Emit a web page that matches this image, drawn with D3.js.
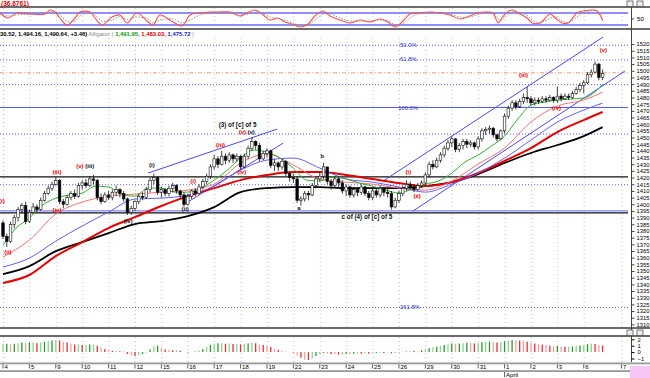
<!DOCTYPE html>
<html><head><meta charset="utf-8">
<script src="https://cdn.jsdelivr.net/npm/d3@7"></script>
<style>
body{margin:0;background:#fff}
svg{display:block;font-family:"Liberation Sans",Arial,sans-serif}
</style></head>
<body><svg id="c" width="650" height="378"></svg>
<script>
// ---------- DATA ----------
const dayLabels = ["4","5","9","10","11","12","15","16","17","18","19","22","23","24","25","26","29","30","31","1","2","3","6","7"];
const dayBars   = [0,7,14,21,28,35,42,49,56,63,70,77,84,91,98,105,112,119,126,133,140,147,154,164];

const firstOpen = 1386;
const close = [1376,1372,1385,1390,1396,1399,1387, 1394,1398,1396,1403,1408,1412,1415,
 1418,1402,1400,1405,1408,1406,1414, 1416,1414,1419,1418,1405,1402,1407,
 1405,1409,1411,1408,1404,1394,1397, 1402,1406,1405,1411,1418,1420,1409,
 1411,1408,1412,1414,1410,1407,1400, 1406,1410,1408,1413,1417,1421,1428,
 1434,1430,1436,1433,1437,1434,1436, 1428,1436,1442,1447,1444,1434,1438,
 1440,1429,1431,1428,1432,1423,1420, 1419,1403,1404,1408,1407,1414,1419,
 1421,1428,1417,1414,1419,1416,1410, 1413,1407,1411,1409,1413,1408,1405,
 1410,1407,1412,1409,1408,1398,1403, 1408,1412,1415,1413,1411,1414,1416,
 1422,1430,1428,1433,1437,1442,1446, 1449,1441,1444,1447,1445,1446,1443,
 1449,1455,1456,1457,1452,1449,1455, 1466,1472,1476,1473,1477,1480,1479,
 1476,1478,1477,1479,1478,1480,1478, 1481,1479,1481,1480,1483,1486,1489,
 1491,1497,1499,1505,1495,1498];
const high = [1388,1378,1387,1392,1398,1401,1402, 1396,1401,1400,1405,1410,1414,1417,
 1420,1419,1404,1407,1410,1411,1416, 1418,1419,1421,1422,1419,1408,1409,
 1410,1411,1414,1412,1410,1405,1399, 1403,1408,1409,1413,1420,1423,1421,
 1413,1412,1414,1416,1415,1411,1409, 1408,1411,1412,1415,1419,1423,1430,
 1437,1436,1440,1438,1439,1438,1438, 1437,1438,1444,1450,1448,1446,1440,
 1442,1441,1434,1432,1434,1433,1424, 1423,1421,1406,1410,1410,1416,1421,
 1424,1431,1427,1419,1421,1421,1418, 1415,1414,1413,1413,1415,1414,1410,
 1412,1412,1414,1413,1412,1410,1405, 1410,1414,1418,1417,1415,1416,1418,
 1424,1432,1433,1435,1439,1444,1448, 1451,1449,1446,1449,1449,1448,1447,
 1451,1457,1458,1459,1458,1453,1456, 1468,1474,1478,1478,1479,1483,1488,
 1481,1480,1480,1481,1481,1482,1481, 1488,1483,1483,1483,1485,1488,1491,
 1493,1499,1501,1507,1506,1501];
const low = [1374,1368,1371,1382,1387,1393,1385, 1386,1393,1394,1395,1402,1407,1410,
 1414,1400,1397,1399,1403,1404,1405, 1411,1412,1413,1415,1403,1400,1401,
 1403,1403,1406,1405,1402,1392,1392, 1395,1400,1403,1404,1409,1415,1407,
 1405,1406,1406,1409,1408,1404,1398, 1399,1404,1406,1407,1411,1415,1419,
 1426,1427,1429,1430,1431,1431,1432, 1426,1427,1434,1440,1441,1432,1433,
 1435,1427,1425,1425,1426,1421,1417, 1416,1401,1399,1402,1403,1406,1412,
 1417,1419,1415,1411,1412,1413,1408, 1406,1405,1405,1406,1407,1406,1403,
 1403,1405,1405,1406,1405,1396,1397, 1401,1406,1410,1411,1409,1410,1412,
 1414,1420,1426,1427,1431,1435,1440, 1443,1439,1439,1441,1442,1443,1441,
 1441,1447,1452,1453,1450,1447,1448, 1453,1464,1470,1471,1472,1475,1476,
 1474,1474,1475,1476,1476,1477,1476, 1476,1477,1478,1478,1479,1482,1484,
 1483,1490,1495,1498,1493,1493];

// moving-average lines (bar index, price)
const maBars  = [0,7,14,21,28,35,42,49,56,63,70,77,84,91,98,105,112,119,126,133,140,147,154,159];
const maBlack = [1347.7,1353.7,1364.9,1371.7,1378.4,1385.2,1387.4,1391.2,1397.9,1409.1,1412.1,1412.9,1412.9,1412.1,1412.1,1412.1,1413.6,1416.6,1422.6,1430.9,1438.4,1444.4,1451.1,1457.8];
const maRed   = [1341,1347,1361.2,1371.7,1382.2,1390.4,1398.7,1406.1,1412.1,1418.1,1421.9,1424.1,1424.1,1421.9,1418.9,1415.9,1413.6,1416.6,1423.4,1432.4,1442.1,1454.1,1463.1,1469.1];
const maJaw   = [1353,1359.7,1372.4,1383.7,1394.2,1403.9,1404.6,1406.9,1413.6,1425.6,1433.1,1434.6,1427.1,1418.9,1416.6,1412.9,1409.1,1415.1,1423.4,1434.6,1448.1,1461.6,1470.6,1475.8];
const maTeeth = [1360.4,1373.2,1392.7,1401.6,1406.1,1407.6,1409.1,1410.6,1415.1,1430.9,1437.6,1429.4,1418.9,1416.6,1415.1,1412.1,1410.6,1417.4,1430.1,1442.1,1461.6,1473.6,1478.1,1484];
const lipsBars = [0,3.5,7,10.5,14,17.5,21,24.5,28,31.5,35,38.5,42,45.5,49,52.5,56,59.5,63,66.5,70,73.5,77,80.5,84,87.5,91,94.5,98,101.5,105,108.5,112,115.5,119,122.5,126,129.5,133,136.5,140,143.5,147,150.5,154,157.5,159];
const maLips  = [1369.4,1382.2,1389.7,1399.4,1404.6,1406.9,1408.4,1413.6,1412.9,1407.6,1406.1,1412.1,1412.1,1409.1,1409.1,1412.1,1418.1,1425.6,1434.6,1440.6,1439.1,1434.6,1427.1,1418.1,1417.4,1420.4,1418.9,1415.9,1413.6,1410.6,1408.4,1411.4,1415.1,1417.4,1423.4,1431.6,1436.9,1443.6,1451.1,1463.8,1474.3,1476.6,1478.1,1478.8,1479.6,1485.5,1490];

// trend lines: [bar0, price0, bar1, price1]
const trendLines = [[38.5,1423.4,72.7,1456.3],[47.7,1399.4,74.3,1445.8],[100.8,1417.4,159.1,1525.2],[108.7,1394.9,164.9,1499.8]];

// horizontal levels
const fibLevels = [1519.5,1508.5,1490,1453,1415,1323];
const fibNames  = ["50.0%","61.8%","","","","261.8%"];
const hundredLevel = 1472.5;
const orangeLevel = 1498.5;
const blackLevels = [1420.5,1393.5];
const blueSolidLevel = 1395;

// oscillator histogram
const hist = [1.3,1.3,1.2,1.3,1.4,1.5,1.4, 1.5,1.5,1.4,1.5,1.6,1.7,1.8, 1.9,1.8,1.6,1.5,1.3,1.2,1.2,
 1.1,1.1,1.2,1.2,1.0,0.7,0.5, 0.3,0.2,0.2,0.15,0.1,-0.3,-0.5, -0.6,-0.5,-0.3,-0.1,0.4,0.9,1.0,
 0.7,0.4,0.35,0.3,0.3,0.2,0.05, -0.05,0.0,0.1,0.3,0.5,0.8,1.1, 1.3,1.4,1.4,1.3,1.35,1.25,1.3,
 1.2,1.25,1.35,1.45,1.4,1.2,1.1, 1.0,0.8,0.5,0.35,0.2,0.05,0.0, -0.1,-0.5,-0.9,-1.2,-1.25,-1.0,-0.6,
 -0.35,-0.15,-0.2,-0.3,-0.35,-0.4,-0.35, -0.3,-0.35,-0.25,-0.2,-0.25,-0.2,-0.25, -0.2,-0.15,-0.1,-0.15,-0.05,-0.2,-0.15,
 -0.05,0.05,0.1,0.15,0.2,0.15,0.3, 0.4,0.6,0.75,0.85,1.0,1.1,1.2, 1.35,1.3,1.35,1.4,1.45,1.4,1.35,
 1.45,1.55,1.6,1.65,1.6,1.5,1.55, 1.7,1.8,1.9,1.85,1.8,1.7,1.6, 1.45,1.35,1.25,1.15,1.1,1.0,0.9,
 0.95,0.85,0.8,0.8,0.85,0.95,1.05, 1.15,1.25,1.3,1.25,1.1,1.05];
const histTicks = [2,1,0,-1];

// stochastic
const stochBars = [-0.8,1.3,3.7,7.2,11.1,12.5,13.8,15.1,17,19.1,20.4,23.1,24.4,26.3,28.9,31,32.9,35.5,38.5,39.8,41.6,45.1,47.5,49.6,52.2,54.9,57.5,60.2,62.8,64.2,66.8,68.7,70.8,72.9,74.8,76.6,78.8,80.9,82.7,84.9,86.7,89.4,92,94.7,97.3,100,102.1,104,105.8,107.9,110,113.2,115.9,118.5,121.2,123.1,125.7,127.8,129.9,131.3,132.3,133.7,135.2,136.6,139,140.3,142.4,145.1,146.4,148.3,149.8,152.2,153.8,156.4,157.5,159.1];
const stochK = [80,55,80,75,75,95,85,55,20,55,85,85,55,20,60,70,30,80,35,20,70,35,15,70,80,85,85,85,65,75,95,75,45,55,35,25,10,25,65,90,65,45,30,45,35,50,35,10,35,75,80,85,80,70,50,60,80,85,80,30,55,85,95,80,55,30,30,75,55,30,30,80,90,95,90,40];
const stochD = [75,65,70,75,75,85,88,70,40,40,65,82,70,40,45,62,48,60,50,30,45,50,30,45,70,82,85,85,75,72,85,80,60,52,45,32,18,20,45,75,75,55,40,40,40,45,40,22,25,55,75,82,82,75,60,58,70,82,82,50,45,70,88,85,68,45,32,55,62,40,32,60,82,92,92,60];
const stochLevels = [80,20];

// annotations [text, bar, price, colour]
const waveLabels = [
 ["(i)",-0.3,1401,"red"],["(ii)",1.3,1363,"red"],["(iii)",14.3,1423,"red"],["(iv)",14.3,1394,"red"],
 ["(v)",20.4,1427,"red"],["(iii)",23,1427,"black"],["(iv)",33.2,1386,"black"],["(i)",39.5,1428,"black"],
 ["(ii)",48.3,1395,"black"],["(i)",50.4,1416,"red"],["(iii)",57.7,1443,"red"],["(iv)",63.3,1423,"red"],
 ["(v)",63.5,1453,"red"],["(v)",65.8,1453,"black"],["a",78.5,1396,"black"],["b",84.7,1435,"black"],
 ["(i)",107.5,1423,"red"],["(ii)",109.8,1405,"red"],["(iii)",138,1495,"red"],["(iv)",146.8,1471,"red"],["(v)",159.2,1514,"red"]
];
const notes = [["(3) of [c] of 5",62.2,1458],["c of (4) of [c] of 5",96.5,1389]];

// ---------- DRAW ----------
const svg = d3.select("#c");
const x = d3.scaleLinear().domain([0,166]).range([3,629]);
const y = d3.scaleLinear().domain([1310,1520]).range([324.4,44.1]);
const ys = d3.scaleLinear().domain([0,100]).range([29,9]);
const yh = d3.scaleLinear().domain([-1,2]).range([358.5,339.3]);
const RIGHT = 628;

const defs = svg.append("defs");
defs.append("clipPath").attr("id","mainClip").append("rect").attr("x",0).attr("y",30).attr("width",RIGHT).attr("height",297);
defs.append("clipPath").attr("id","stClip").append("rect").attr("x",0).attr("y",7).attr("width",RIGHT).attr("height",22);

// vertical dotted grid
const grid = svg.append("g").attr("stroke","#b8b8b8").attr("stroke-width",0.8).attr("stroke-dasharray","1,3");
dayBars.forEach(b=>{
  [[8,28],[38,327],[337,362]].forEach(r=>grid.append("line").attr("x1",x(b)+0.5).attr("x2",x(b)+0.5).attr("y1",r[0]).attr("y2",r[1]));
});

// panel frames
const frame = svg.append("g").attr("stroke","#3a3a3a").attr("stroke-width",1.5);
[7,29,328,336].forEach(v=>frame.append("line").attr("x1",0).attr("x2",650).attr("y1",v).attr("y2",v));
svg.append("line").attr("x1",631.5).attr("x2",631.5).attr("y1",7).attr("y2",362).attr("stroke","#444").attr("stroke-width",1);
svg.append("rect").attr("x",0).attr("y",362.5).attr("width",650).attr("height",1.8).attr("fill","#9a9a9a");
svg.append("rect").attr("x",0).attr("y",370.2).attr("width",650).attr("height",1.8).attr("fill","#9a9a9a");
svg.append("rect").attr("x",630).attr("y",366).attr("width",20).attr("height",12).attr("fill","#f7c6f7");

// window icons
[[622,1],[637,1],[622,330],[637,330]].forEach(([ix,iy],k)=>{
  svg.append("rect").attr("x",ix+(k%2?0:5)).attr("y",iy).attr("width",6).attr("height",5.5).attr("fill","#eee").attr("stroke","#444").attr("stroke-width",0.7);
});

// ---- stochastic panel
const st = svg.append("g").attr("clip-path","url(#stClip)");
stochLevels.forEach(v=>st.append("line").attr("x1",0).attr("x2",RIGHT).attr("y1",ys(v)).attr("y2",ys(v)).attr("stroke","#6a6aff").attr("stroke-width",1.3));
const sLine = d3.line().x((d,i)=>x(stochBars[i])).y(d=>ys(d)).curve(d3.curveCatmullRom);
st.append("path").attr("d",sLine(stochD)).attr("fill","none").attr("stroke","#8a9a8a").attr("stroke-width",1).attr("stroke-dasharray","1.5,1.5");
st.append("path").attr("d",sLine(stochK)).attr("fill","none").attr("stroke","#ff5050").attr("stroke-width",1.1);
svg.append("text").attr("x",1).attr("y",5.5).attr("fill","#e00000").attr("font-size",6.5).attr("font-weight","bold").text("(36.6761)");
svg.append("line").attr("x1",631.5).attr("x2",634).attr("y1",ys(50)).attr("y2",ys(50)).attr("stroke","#444");
svg.append("text").attr("x",637).attr("y",ys(50)+2.2).attr("font-size",6.2).text("50");

// ---- main panel
const m = svg.append("g").attr("clip-path","url(#mainClip)");
fibLevels.forEach(v=>m.append("line").attr("x1",0).attr("x2",RIGHT).attr("y1",y(v)+0.5).attr("y2",y(v)+0.5).attr("stroke","#5a5aff").attr("stroke-width",1).attr("stroke-dasharray","1,2"));
m.append("line").attr("x1",0).attr("x2",RIGHT).attr("y1",y(orangeLevel)).attr("y2",y(orangeLevel)).attr("stroke","#ff9a70").attr("stroke-width",1).attr("stroke-dasharray","4,2,1,2");
m.append("line").attr("x1",0).attr("x2",RIGHT).attr("y1",y(hundredLevel)).attr("y2",y(hundredLevel)).attr("stroke","#5a5aff").attr("stroke-width",1.1);
m.append("line").attr("x1",0).attr("x2",RIGHT).attr("y1",y(blueSolidLevel)).attr("y2",y(blueSolidLevel)).attr("stroke","#8080ff").attr("stroke-width",1.2);
blackLevels.forEach(v=>m.append("line").attr("x1",0).attr("x2",RIGHT).attr("y1",y(v)).attr("y2",y(v)).attr("stroke","#111").attr("stroke-width",1.3));

fibLevels.forEach((v,i)=>{ if(fibNames[i]) m.append("text").attr("x",x(105.3)).attr("y",y(v)+2).attr("fill","#3030c0").attr("font-size",5.8).text(fibNames[i]); });
m.append("text").attr("x",x(104.8)).attr("y",y(hundredLevel)+2).attr("fill","#3030c0").attr("font-size",5.8).text("100.0%");

// trend lines
trendLines.forEach(t=>m.append("line").attr("x1",x(t[0])).attr("y1",y(t[1])).attr("x2",x(t[2])).attr("y2",y(t[3])).attr("stroke","#4848ff").attr("stroke-width",1));

// moving averages
const maLine = bars => d3.line().x((d,i)=>x(bars[i])).y(d=>y(d)).curve(d3.curveMonotoneX);
m.append("path").attr("d",maLine(maBars)(maBlack)).attr("fill","none").attr("stroke","#000").attr("stroke-width",1.8);
m.append("path").attr("d",maLine(maBars)(maRed)).attr("fill","none").attr("stroke","#e80000").attr("stroke-width",2);
m.append("path").attr("d",maLine(maBars)(maJaw)).attr("fill","none").attr("stroke","#6060ff").attr("stroke-width",1);
m.append("path").attr("d",maLine(maBars)(maTeeth)).attr("fill","none").attr("stroke","#ff7070").attr("stroke-width",1);
m.append("path").attr("d",maLine(lipsBars)(maLips)).attr("fill","none").attr("stroke","#30b030").attr("stroke-width",1);

// candles
const bars = close.map((c,i)=>({i,o:i?close[i-1]:firstOpen,h:high[i],l:low[i],c}));
const cg = m.append("g");
cg.selectAll("line.w").data(bars).join("line").attr("x1",d=>x(d.i)).attr("x2",d=>x(d.i)).attr("y1",d=>y(d.h)).attr("y2",d=>y(d.l)).attr("stroke","#111").attr("stroke-width",0.8);
cg.selectAll("rect").data(bars).join("rect")
  .attr("x",d=>x(d.i)-1.3).attr("width",2.6)
  .attr("y",d=>y(Math.max(d.o,d.c))).attr("height",d=>Math.max(0.8,Math.abs(y(d.o)-y(d.c))))
  .attr("fill",d=>d.c>=d.o?"#fff":"#000").attr("stroke","#111").attr("stroke-width",0.6);

// annotations
waveLabels.forEach(([t,b,p,c])=>m.append("text").attr("x",x(b)).attr("y",y(p)).attr("text-anchor","middle").attr("fill",c==="red"?"#e00000":"#111").attr("font-size",6).attr("font-weight","bold").text(t));
notes.forEach(([t,b,p])=>m.append("text").attr("x",x(b)).attr("y",y(p)).attr("text-anchor","middle").attr("fill","#111").attr("font-size",6.3).attr("font-weight","bold").text(t));

// header
const hdr = svg.append("text").attr("x",0).attr("y",36).attr("font-size",5.9);
hdr.append("tspan").attr("font-weight","bold").attr("fill","#000").text("30.52, 1,494.16, 1,490.64, +3.46)");
hdr.append("tspan").attr("fill","#888").text(" Alligator ( ");
hdr.append("tspan").attr("fill","#0a9a0a").attr("font-weight","bold").text("1,491.95, ");
hdr.append("tspan").attr("fill","#e00000").attr("font-weight","bold").text("1,483.03, ");
hdr.append("tspan").attr("fill","#1a1ae0").attr("font-weight","bold").text("1,475.72");
hdr.append("tspan").attr("fill","#888").text(" )");

// main axis
const ax = svg.append("g").attr("transform",`translate(631.5,0)`)
  .call(d3.axisRight(y).tickValues(d3.range(1310,1521,5)).tickSize(3).tickPadding(2).tickFormat(d3.format("d")));
ax.select(".domain").remove();
ax.selectAll("text").attr("font-size",5.8).attr("font-family","Liberation Sans, Arial, sans-serif");
ax.selectAll("line").attr("stroke","#444");

// ---- histogram panel
const hg = svg.append("g");
hg.selectAll("line").data(hist).join("line")
  .attr("x1",(d,i)=>x(i)).attr("x2",(d,i)=>x(i)).attr("y1",yh(0)).attr("y2",d=>yh(d))
  .attr("stroke",(d,i)=>{const up=!(i>0&&d<hist[i-1]); return up?(i%2?"#2a9a2a":"#8fd08f"):(i%2?"#e83030":"#ff9c9c");})
  .attr("stroke-width",1.3);
const hax = svg.append("g").attr("transform",`translate(631.5,0)`)
  .call(d3.axisRight(yh).tickValues(histTicks).tickSize(3).tickPadding(3).tickFormat(d3.format("d")));
hax.select(".domain").remove();
hax.selectAll("text").attr("font-size",5.8).attr("font-family","Liberation Sans, Arial, sans-serif");

// x axis labels
const xl = svg.append("g");
dayBars.forEach((b,k)=>{
  xl.append("line").attr("x1",x(b)).attr("x2",x(b)).attr("y1",364.3).attr("y2",368.5).attr("stroke","#333").attr("stroke-width",0.8);
  xl.append("text").attr("x",x(b)+1.5).attr("y",369.2).attr("font-size",6).text(dayLabels[k]);
});
xl.append("text").attr("x",x(133)+1.5).attr("y",377).attr("font-size",6).text("April");
xl.append("line").attr("x1",x(133)).attr("x2",x(133)).attr("y1",372).attr("y2",377).attr("stroke","#333").attr("stroke-width",0.8);
</script></body></html>
